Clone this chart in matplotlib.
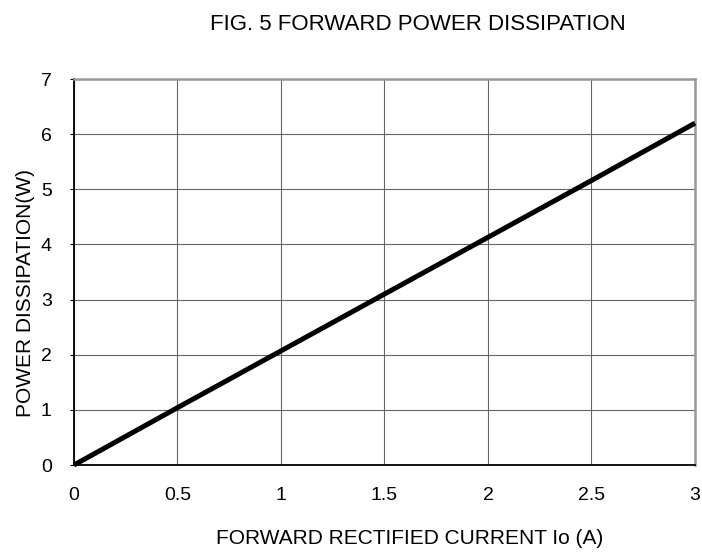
import matplotlib.pyplot as plt

plt.rcParams['font.family'] = ['Liberation Sans', 'DejaVu Sans']

current = [0, 0.5, 1, 1.5, 2, 2.5, 3]
power = [0, 1.04, 2.07, 3.1, 4.13, 5.16, 6.2]
xticks = [0, 0.5, 1, 1.5, 2, 2.5, 3]
xtick_labels = ['0', '0.5', '1', '1.5', '2', '2.5', '3']
yticks = [0, 1, 2, 3, 4, 5, 6, 7]

fig = plt.figure(figsize=(7.02, 5.53), dpi=100)
ax = fig.add_axes([0.1054, 0.1591, 0.8846, 0.698])

ax.plot(current, power, color='black', linewidth=3.6, solid_capstyle='butt', clip_on=False, zorder=3)

ax.set_xlim(0, 3)
ax.set_ylim(0, 7)
ax.set_xticks(xticks)
ax.set_xticklabels(xtick_labels)
ax.set_yticks(yticks)
ax.grid(True, color='#666666', linewidth=0.8)
ax.tick_params(axis='x', length=0, pad=16, labelsize=14)
ax.tick_params(axis='y', length=3, pad=13, labelsize=14)

for side in ['top', 'right']:
    ax.spines[side].set_color('#999999')
    ax.spines[side].set_linewidth(1.8)
for side in ['left', 'bottom']:
    ax.spines[side].set_color('black')
    ax.spines[side].set_linewidth(1.3)

fig.text(0.5954, 0.9458, 'FIG. 5 FORWARD POWER DISSIPATION', ha='center', va='baseline', fontsize=16)
fig.text(0.584, 0.0163, 'FORWARD RECTIFIED CURRENT Io (A)', ha='center', va='baseline', fontsize=15)
fig.text(0.037, 0.47, 'POWER DISSIPATION(W)', ha='center', va='center', rotation=90, fontsize=15)

fig.savefig('out.png', dpi=100)
